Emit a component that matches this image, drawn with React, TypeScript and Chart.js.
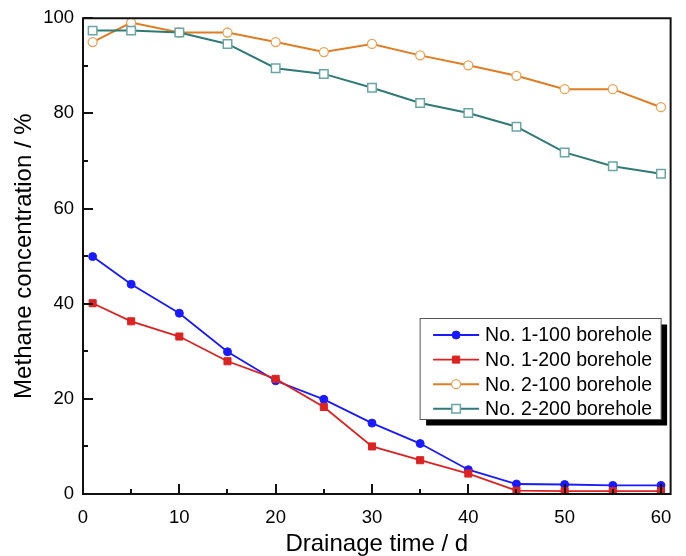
import React, { useEffect, useRef } from 'react';
import { Chart, registerables } from 'chart.js';
import { drawPoint } from 'chart.js/helpers';

Chart.register(...registerables);

// ---- data ----
const days = [1, 5, 10, 15, 20, 25, 30, 35, 40, 45, 50, 55, 60];
const no1_100 = [49.9, 44.1, 38.0, 29.9, 23.8, 19.9, 14.9, 10.6, 5.1, 2.1, 2.0, 1.8, 1.8];
const no1_200 = [40.1, 36.3, 33.1, 27.9, 24.2, 18.3, 10.0, 7.1, 4.3, 0.7, 0.6, 0.6, 0.6];
const no2_100 = [95.0, 99.1, 97.0, 97.0, 95.0, 92.9, 94.6, 92.2, 90.1, 87.9, 85.1, 85.1, 81.3];
const no2_200 = [97.4, 97.4, 97.0, 94.6, 89.5, 88.3, 85.4, 82.2, 80.1, 77.2, 71.8, 68.9, 67.3];

const seriesLabels = ['No. 1-100 borehole', 'No. 1-200 borehole', 'No. 2-100 borehole', 'No. 2-200 borehole'];

const xTicks = [0, 10, 20, 30, 40, 50, 60];
const xMinor = [5, 15, 25, 35, 45, 55];
const yTicks = [0, 20, 40, 60, 80, 100];
const yMinor = [10, 30, 50, 70, 90];

const xTitle = 'Drainage time / d';
const yTitle = 'Methane concentration / %';

const FONT = '"Liberation Sans", Arial, Helvetica, sans-serif';

const toPoints = (vals: number[]) => days.map((d, i) => ({ x: d, y: vals[i] }));

const framePlugin = {
  id: 'frameTicks',
  afterDatasetsDraw(chart: any) {
    const { ctx, chartArea: a, scales } = chart;
    const x = scales.x;
    const y = scales.y;
    ctx.save();
    ctx.strokeStyle = '#111';
    ctx.lineWidth = 2;
    ctx.strokeRect(a.left, a.top, a.right - a.left, a.bottom - a.top);
    ctx.beginPath();
    for (const v of xTicks) {
      const px = Math.round(x.getPixelForValue(v));
      ctx.moveTo(px, a.bottom);
      ctx.lineTo(px, a.bottom - 10);
    }
    for (const v of xMinor) {
      const px = Math.round(x.getPixelForValue(v));
      ctx.moveTo(px, a.bottom);
      ctx.lineTo(px, a.bottom - 5);
    }
    for (const v of yTicks) {
      const py = Math.round(y.getPixelForValue(v));
      ctx.moveTo(a.left, py);
      ctx.lineTo(a.left + 10, py);
    }
    for (const v of yMinor) {
      const py = Math.round(y.getPixelForValue(v));
      ctx.moveTo(a.left, py);
      ctx.lineTo(a.left + 5, py);
    }
    ctx.stroke();
    ctx.restore();
  },
};

const legendPlugin = {
  id: 'boxLegend',
  afterDraw(chart: any) {
    const { ctx, chartArea: a } = chart;
    const bw = 241;
    const bh = 101;
    const bx = a.right - 10 - bw + 0.5;
    const by = a.bottom - 75 - bh + 0.5;
    ctx.save();
    ctx.fillStyle = '#000';
    ctx.fillRect(bx + 6, by + 6, bw, bh);
    ctx.fillStyle = '#fff';
    ctx.fillRect(bx, by, bw, bh);
    ctx.strokeStyle = '#555';
    ctx.lineWidth = 1;
    ctx.strokeRect(bx, by, bw, bh);
    const order = [0, 1, 2, 3];
    order.forEach((idx, row) => {
      const ds = chart.data.datasets[idx];
      const cy = by + 16.5 + row * 24.6;
      const x0 = bx + 13;
      const x1 = bx + 59;
      ctx.strokeStyle = ds.borderColor;
      ctx.lineWidth = ds.borderWidth;
      ctx.beginPath();
      ctx.moveTo(x0, cy);
      ctx.lineTo(x1, cy);
      ctx.stroke();
      ctx.fillStyle = ds.pointBackgroundColor;
      ctx.strokeStyle = ds.pointBorderColor;
      ctx.lineWidth = ds.pointBorderWidth;
      drawPoint(ctx, { pointStyle: ds.pointStyle, radius: ds.pointRadius, rotation: 0, borderWidth: ds.pointBorderWidth } as any, (x0 + x1) / 2, cy);
      ctx.fillStyle = '#000';
      ctx.font = `19.5px ${FONT}`;
      ctx.textAlign = 'left';
      ctx.textBaseline = 'middle';
      ctx.fillText(ds.label, bx + 65, cy + 1);
    });
    ctx.restore();
  },
};

export default function App() {
  const ref = useRef<HTMLCanvasElement | null>(null);
  useEffect(() => {
    document.body.style.margin = '0';
    const canvas = ref.current;
    if (!canvas) return;
    const chart = new Chart(canvas, {
      type: 'line',
      data: {
        datasets: [
          {
            label: seriesLabels[0],
            data: toPoints(no1_100),
            borderColor: '#1a1aff',
            backgroundColor: '#1a1aff',
            borderWidth: 1.8,
            pointStyle: 'circle',
            pointRadius: 4,
            pointBackgroundColor: '#1a1aff',
            pointBorderColor: '#1a1aff',
            pointBorderWidth: 1,
            order: 3,
          },
          {
            label: seriesLabels[1],
            data: toPoints(no1_200),
            borderColor: '#dd2222',
            backgroundColor: '#dd2222',
            borderWidth: 1.8,
            pointStyle: 'rect',
            pointRadius: 5,
            pointBackgroundColor: '#dd2222',
            pointBorderColor: '#dd2222',
            pointBorderWidth: 1,
            order: 2,
          },
          {
            label: seriesLabels[2],
            data: toPoints(no2_100),
            borderColor: '#e07d22',
            backgroundColor: '#ffffff',
            borderWidth: 2,
            pointStyle: 'circle',
            pointRadius: 4.5,
            pointBackgroundColor: '#ffffff',
            pointBorderColor: '#eaa255',
            pointBorderWidth: 1.3,
            order: 1,
          },
          {
            label: seriesLabels[3],
            data: toPoints(no2_200),
            borderColor: '#307a75',
            backgroundColor: '#ffffff',
            borderWidth: 2,
            pointStyle: 'rect',
            pointRadius: 6,
            pointBackgroundColor: '#ffffff',
            pointBorderColor: '#6aa6a6',
            pointBorderWidth: 1.5,
            order: 0,
          },
        ],
      },
      options: {
        responsive: false,
        animation: false,
        devicePixelRatio: 1,
        layout: { padding: { left: 0, right: 14, top: 17, bottom: 0 } },
        plugins: {
          legend: { display: false },
          tooltip: { enabled: false },
        },
        scales: {
          x: {
            type: 'linear',
            min: 0,
            max: 61,
            grid: { display: false, drawTicks: false },
            border: { display: false },
            afterBuildTicks: (s: any) => {
              s.ticks = xTicks.map((v) => ({ value: v }));
            },
            afterFit: (s: any) => {
              s.height = 62;
            },
            ticks: {
              autoSkip: false,
              maxRotation: 0,
              padding: 14.5,
              color: '#000',
              font: { family: FONT, size: 18.5, lineHeight: 1 },
            },
            title: {
              display: true,
              text: xTitle,
              color: '#000',
              font: { family: FONT, size: 24, lineHeight: 1 },
              padding: { top: 0, bottom: 0 },
            },
          },
          y: {
            type: 'linear',
            min: 0,
            max: 100,
            grid: { display: false, drawTicks: false },
            border: { display: false },
            afterBuildTicks: (s: any) => {
              s.ticks = yTicks.map((v) => ({ value: v }));
            },
            afterFit: (s: any) => {
              s.width = 83;
            },
            ticks: {
              autoSkip: false,
              padding: 9,
              color: '#000',
              font: { family: FONT, size: 18.5, lineHeight: 1 },
            },
            title: {
              display: true,
              text: yTitle,
              color: '#000',
              font: { family: FONT, size: 24, lineHeight: 1 },
              padding: { top: 12.5, bottom: 0 },
            },
          },
        },
      },
      plugins: [framePlugin, legendPlugin],
    } as any);
    return () => chart.destroy();
  }, []);
  return <canvas ref={ref} width={686} height={556} style={{ display: 'block' }} />;
}
